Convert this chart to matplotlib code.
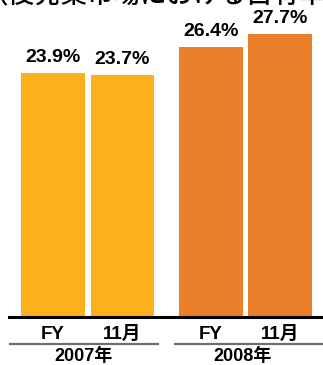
import matplotlib
matplotlib.use("Agg")
import matplotlib.pyplot as plt
import matplotlib.transforms as mtransforms

plt.rcParams['font.family'] = ['Liberation Sans', 'Noto Sans CJK JP']

# market share by period
years = ['2007年', '2008年']
periods = ['FY', '11月', 'FY', '11月']
shares = [23.9, 23.7, 26.4, 27.7]
bar_colors = ['#FCB01B', '#FCB01B', '#EB7F2A', '#EB7F2A']
group_of_bar = [0, 0, 1, 1]

W, H = 323, 365
fig = plt.figure(figsize=(W / 100, H / 100), dpi=100)

# axes area in pixels: left edge 9, baseline at 317 from top
ax = fig.add_axes([9 / W, (H - 317) / H, (W - 9) / W, 317 / H])

xpos = [0, 1, 2.27, 3.27]
ax.bar(xpos, shares, width=0.92, color=bar_colors, linewidth=0)
ax.set_xlim(-0.633, 3.885)
ax.set_ylim(0, 31.0)

for x, v in zip(xpos, shares):
    ax.annotate(f'{v:.1f}%', xy=(x, v), xytext=(0, 5), textcoords='offset points',
                ha='center', va='bottom', fontsize=14, fontweight='bold')

for side in ['left', 'right', 'top']:
    ax.spines[side].set_visible(False)
ax.spines['bottom'].set_linewidth(2.2)
ax.spines['bottom'].set_color('black')
ax.set_yticks([])
ax.set_xticks(xpos, periods, fontsize=13.5, fontweight='bold')
ax.tick_params(axis='x', length=0, pad=6.5)

# group underline and year labels below the period labels
trans = mtransforms.blended_transform_factory(ax.transData, ax.transAxes)
ax_h = 317.0
mid = (xpos[1] + xpos[2]) / 2
spans = [(ax.get_xlim()[0], mid - 0.11), (mid + 0.11, ax.get_xlim()[1])]
for g, (lo, hi) in enumerate(spans):
    ax.plot([lo, hi], [-27 / ax_h, -27 / ax_h], transform=trans, color='#6E6E6E',
            linewidth=1.6, clip_on=False, solid_capstyle='butt')
    centers = [x for x, gi in zip(xpos, group_of_bar) if gi == g]
    cx = (lo + hi) / 2 if g == 0 else sum(centers) / len(centers) - 0.04
    ax.text(cx, -39.5 / ax_h, years[g], transform=trans, ha='center', va='center',
            fontsize=13, fontweight='bold')

fig.text(-18 / W, 1 - 3 / H, '（後発薬市場における占有率）', fontsize=19.1,
         ha='left', va='baseline', family=['Noto Sans CJK JP'], fontweight='medium')

fig.savefig('out.png', dpi=100)
